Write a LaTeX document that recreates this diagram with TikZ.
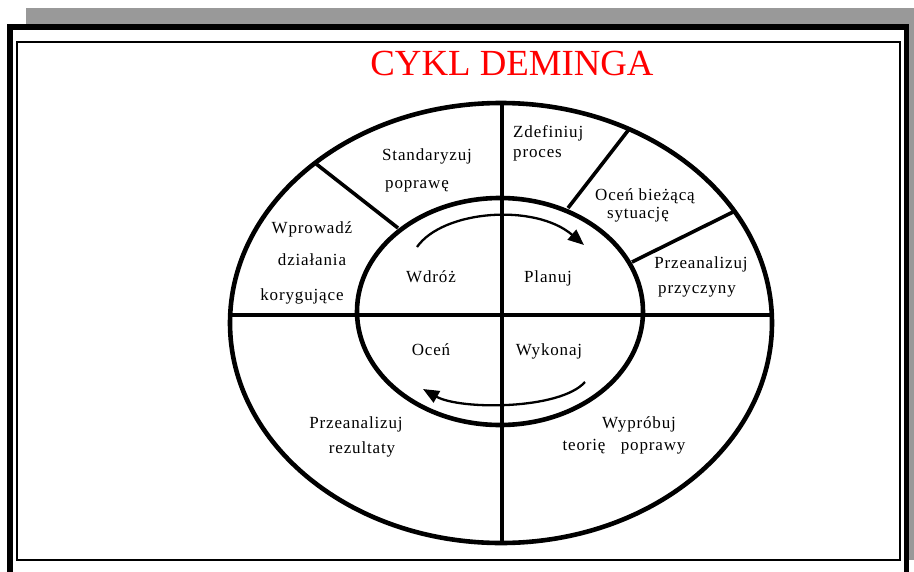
\documentclass[tikz,border=0pt]{standalone}
\usepackage{fontspec}
\setmainfont{Liberation Serif}
\newfontfamily\wheelfont[LetterSpace=5]{Liberation Serif}
\usetikzlibrary{arrows.meta}
\definecolor{shadowgray}{HTML}{999999}

\begin{document}
\begin{tikzpicture}[x=1pt,y=-1pt]
        \tikzstyle{every node}=[inner sep=0pt, anchor=base, font=\wheelfont\fontsize{17}{20}\selectfont, text=black]
        \tikzstyle{ring}=[black, line width=4.6pt]
        \tikzstyle{spoke}=[black, line width=3.6pt]
        \tikzstyle{turn}=[black, line width=2.3pt, -{Triangle[length=16pt,width=13pt]}]

        \useasboundingbox (0,0) rectangle (914,571);
        \clip (0,0) rectangle (914,571);

        % frame with shadow
        \fill[shadowgray] (26,8) rectangle (914,560);
        \fill[black] (7,24) rectangle (909,590);
        \fill[white] (13,30) rectangle (904,590);
        \draw[line width=2pt] (17,42) rectangle (900,560);

        \node[font=\fontsize{36.8}{40}\selectfont, text=red] (title) at (512,75.5) {CYKL DEMINGA};

        % rings
        \draw[ring] (501,323) ellipse [x radius=271pt, y radius=220pt];
        \draw[ring] (500,311.5) ellipse [x radius=143pt, y radius=113.5pt];

        \coordinate (top)    at (502,103);
        \coordinate (bottom) at (502,543);
        \coordinate (left)   at (230,315);
        \coordinate (right)  at (772,315);
        \coordinate (o1) at (315,163);  \coordinate (i1) at (398,228);
        \coordinate (o2) at (630,128);  \coordinate (i2) at (568,208);
        \coordinate (o3) at (733,212);  \coordinate (i3) at (632,262);

        \draw[spoke] (top) -- (bottom);
        \draw[spoke] (left) -- (right);
        \draw[spoke] (o1) -- (i1);
        \draw[spoke] (o2) -- (i2);
        \draw[spoke] (o3) -- (i3);

        % cycle arrows
        \coordinate (a1) at (417,247);  \coordinate (a2) at (584,245);
        \coordinate (b1) at (585,382);  \coordinate (b2) at (423,389);
        \draw[turn] (a1) .. controls (443,210) and (535,203) .. (a2);
        \draw[turn] (b1) .. controls (560,410) and (460,410) .. (b2);

        % inner quarters
        \node (wdroz)   at (431,282) {Wdróż};
        \node (planuj)  at (548,282) {Planuj};
        \node (ocen)    at (431,355) {Oceń};
        \node (wykonaj) at (549,355) {Wykonaj};

        % outer ring
        \node[anchor=base west] (zdef1) at (513,137) {Zdefiniuj};
        \node[anchor=base west] (zdef2) at (513,157) {proces};
        \node (ocb1) at (645,200) {Oceń bieżącą};
        \node (ocb2) at (638,218) {sytuację};
        \node (prz1) at (701,268) {Przeanalizuj};
        \node (prz2) at (697,293) {przyczyny};
        \node (wyp1) at (639,428) {Wypróbuj};
        \node (wyp2) at (624,450) {teorię~~~poprawy};
        \node (rez1) at (356,428) {Przeanalizuj};
        \node (rez2) at (362,453) {rezultaty};
        \node (wpr1) at (312,233) {Wprowadź};
        \node (wpr2) at (312,265) {działania};
        \node (wpr3) at (302,300) {korygujące};
        \node (std1) at (427,160) {Standaryzuj};
        \node (std2) at (417,188) {poprawę};
\end{tikzpicture}
\end{document}
